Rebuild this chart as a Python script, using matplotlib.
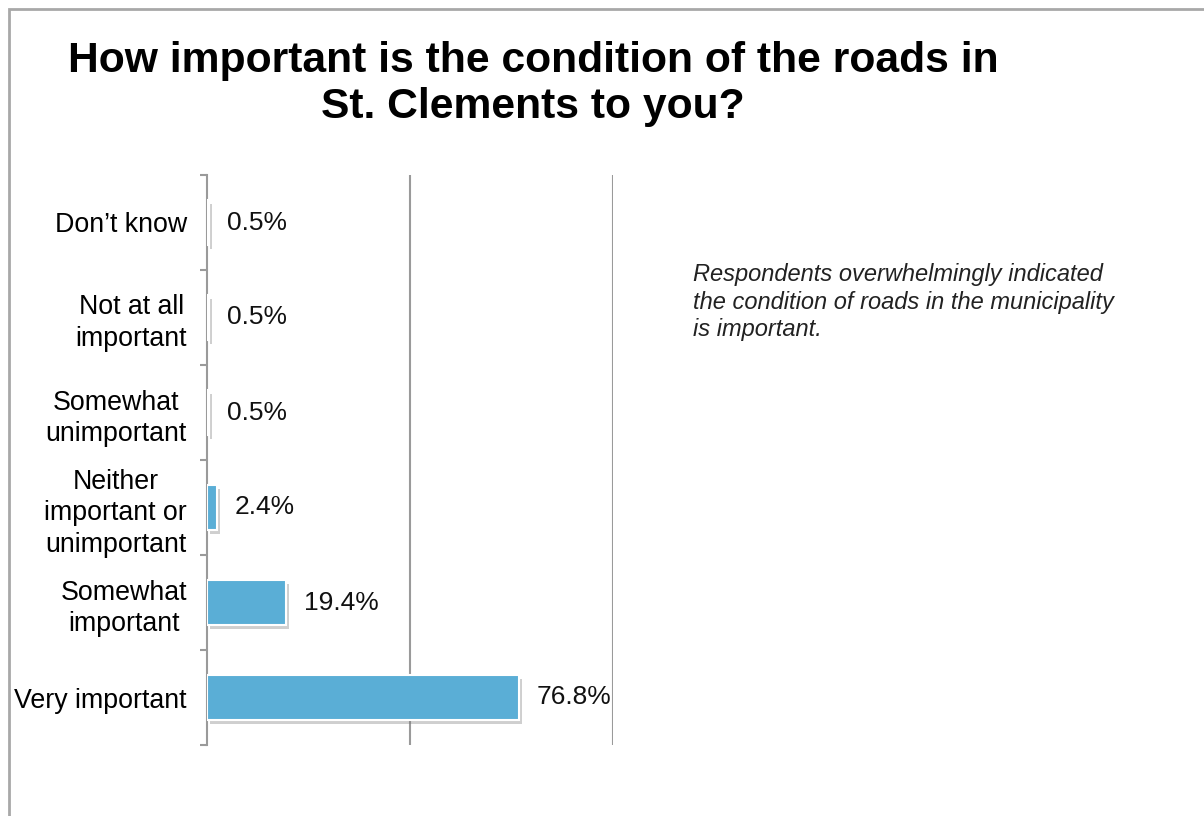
import matplotlib.pyplot as plt
import matplotlib.patheffects as pe
from matplotlib.patches import Rectangle

plt.rcParams['font.family'] = ['Liberation Sans', 'DejaVu Sans']

# bottom to top
labels = ['Very important', 'Somewhat\nimportant', 'Neither\nimportant or\nunimportant',
          'Somewhat\nunimportant', 'Not at all\nimportant', 'Don\u2019t know']
values = [76.8, 19.4, 2.4, 0.5, 0.5, 0.5]
value_text = ['76.8%', '19.4%', '2.4%', '0.5%', '0.5%', '0.5%']

title = 'How important is the condition of the roads in\nSt. Clements to you?'
note = ('Respondents overwhelmingly indicated\nthe condition of roads in the municipality\n'
        'is important.')

fig = plt.figure(figsize=(12.04, 8.16), dpi=100)
ax = fig.add_axes([207 / 1204, 1 - 745 / 816, 406 / 1204, 570 / 816])

ypos = list(range(len(labels)))
bars = ax.barh(ypos, values, height=0.47, color='#5aaed6', edgecolor='white',
               linewidth=1.5, zorder=3)
for b in bars:
    b.set_path_effects([pe.SimplePatchShadow(offset=(2, -3), shadow_rgbFace='#777777', alpha=0.35),
                        pe.Normal()])

for y, v, t in zip(ypos, values, value_text):
    ax.annotate(t, (v, y), xytext=(18, 0), textcoords='offset pixels',
                ha='left', va='center', fontsize=19, color='#111111')

ax.set_xlim(0, 100)
ax.set_ylim(-0.5, len(labels) - 0.5)
for gx in [50, 100]:
    ax.axvline(gx, color='#9a9a9a', lw=1.5, zorder=1)

ax.set_yticks(ypos)
ax.set_yticklabels(labels, fontsize=19.3, multialignment='center', linespacing=1.27)
ax.set_yticks([i - 0.5 for i in range(len(labels) + 1)], minor=True)
ax.tick_params(axis='y', which='major', length=0, pad=14.5)
ax.tick_params(axis='y', which='minor', length=5, width=1.5, color='#9a9a9a')
ax.set_xticks([])
for s in ['top', 'right', 'bottom']:
    ax.spines[s].set_visible(False)
ax.spines['left'].set_color('#9a9a9a')
ax.spines['left'].set_linewidth(1.5)

fig.text(533 / 1204, 1 - 41 / 816, title, ha='center', va='top', fontsize=30.7,
         fontweight='bold', linespacing=1.2)
fig.text(693 / 1204, 1 - 263 / 816, note, ha='left', va='top', fontsize=17,
         style='italic', color='#222222', linespacing=1.25)

fig.patches.append(Rectangle((8.5 / 1204, -0.1), 1.2, 1 + 0.1 - 8.5 / 816,
                             transform=fig.transFigure, fill=False,
                             edgecolor='#a8a8a8', lw=2))

fig.savefig('out.png', dpi=100)
